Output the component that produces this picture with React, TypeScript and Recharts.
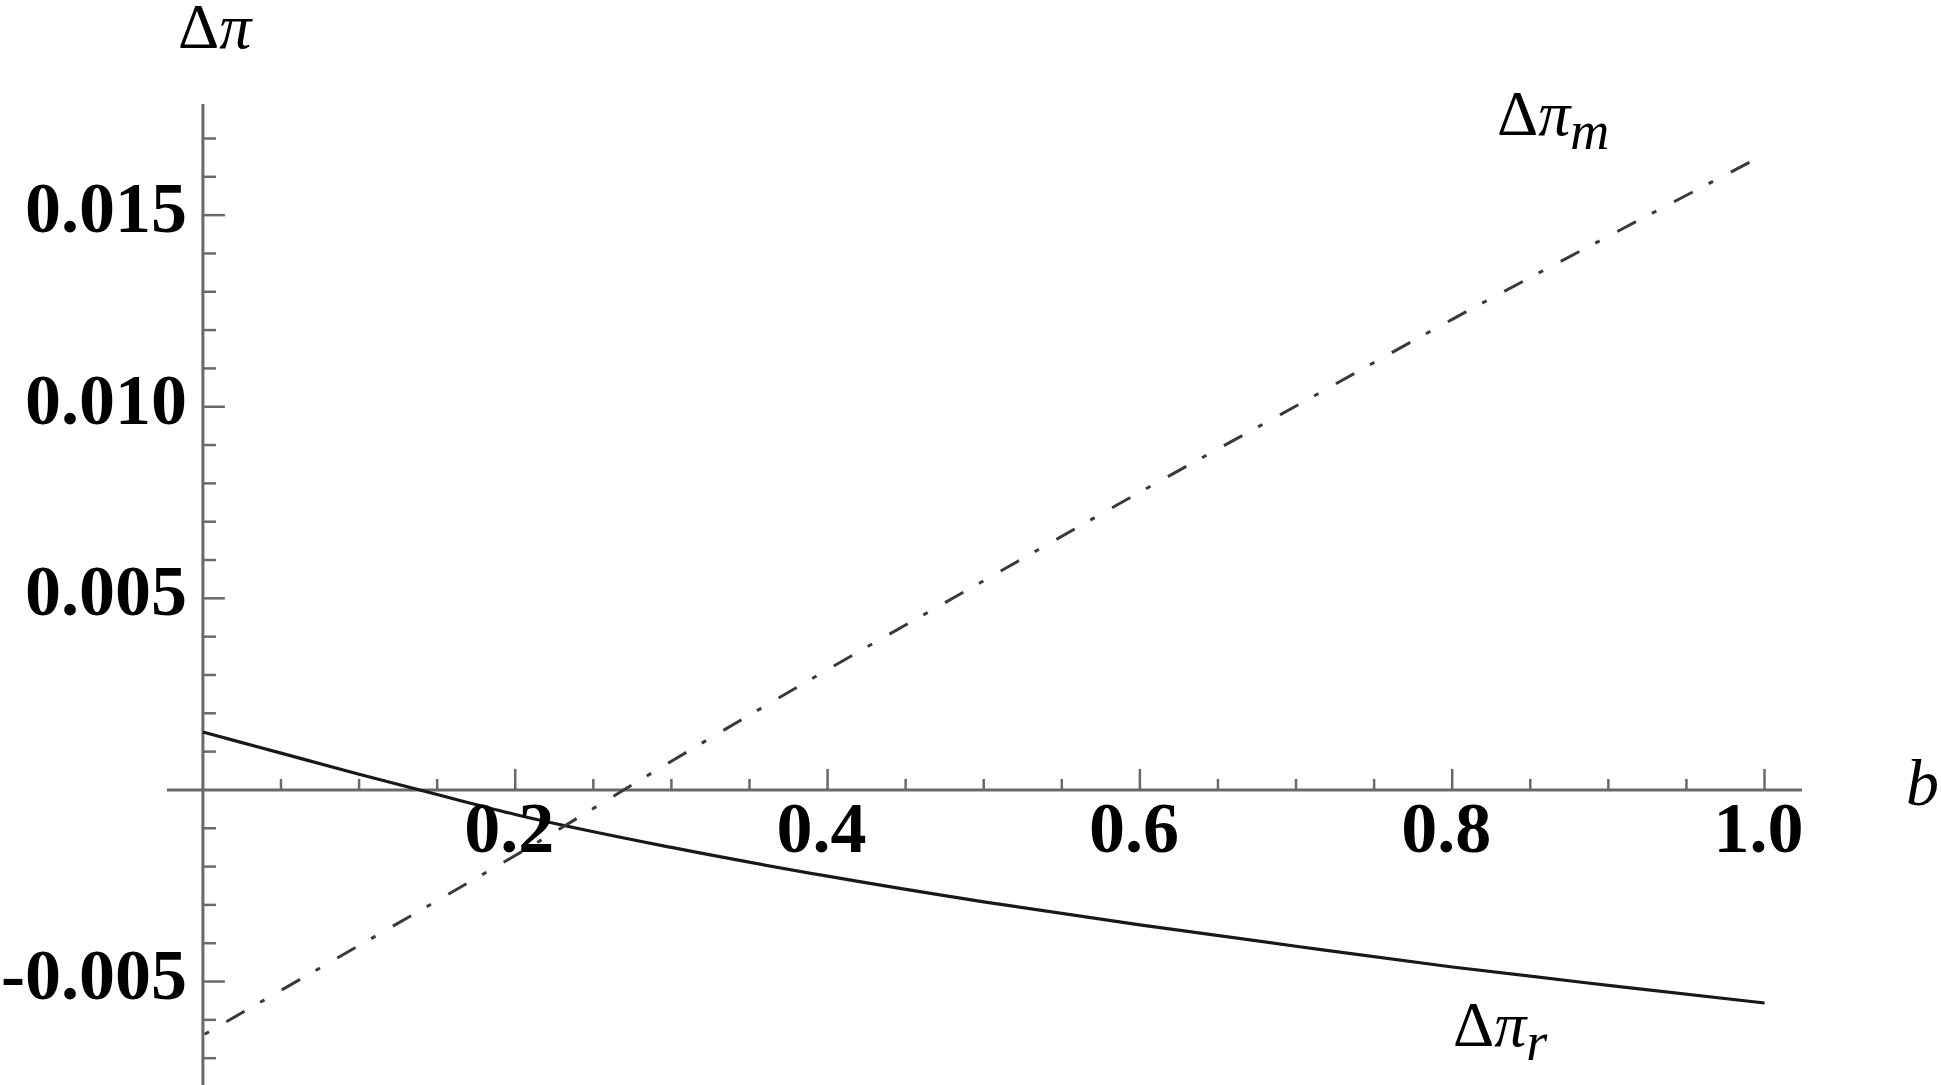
import { LineChart, Line, XAxis, YAxis, ReferenceLine, ReferenceDot } from 'recharts'

// b values along the horizontal axis
const bValues = [0, 0.05, 0.1, 0.15, 0.2, 0.3, 0.4, 0.5, 0.6, 0.7, 0.8, 0.9, 1.0]
// Δπ_r (solid curve)
const deltaPiR = [0.00151, 0.00096, 0.00041, -0.00012, -0.00064, -0.0015, -0.00225, -0.00292, -0.00352, -0.00408, -0.00462, -0.0051, -0.00556]
// Δπ_m (dot-dashed curve)
const deltaPiM = [-0.0064, -0.00523, -0.00406, -0.00289, -0.00171, 0.00075, 0.00314, 0.00546, 0.00777, 0.01002, 0.01228, 0.01445, 0.01658]

// tick positions and labels
const xMajorTicks = [0.2, 0.4, 0.6, 0.8, 1.0]
const xMajorLabels = ['0.2', '0.4', '0.6', '0.8', '1.0']
const xMinorTicks = [0.05, 0.1, 0.15, 0.25, 0.3, 0.35, 0.45, 0.5, 0.55, 0.65, 0.7, 0.75, 0.85, 0.9, 0.95]
const yMajorTicks = [-0.005, 0.005, 0.01, 0.015]
const yMajorLabels = ['-0.005', '0.005', '0.010', '0.015']
const yMinorTicks = [
  -0.007, -0.006, -0.004, -0.003, -0.002, -0.001, 0.001, 0.002, 0.003, 0.004,
  0.006, 0.007, 0.008, 0.009, 0.011, 0.012, 0.013, 0.014, 0.016, 0.017
]

const X_DOMAIN = [-0.023, 1.024]
const Y_DOMAIN = [-0.0077, 0.0179]

const AXIS_COLOR = '#696969'
const SERIF = '"Liberation Serif", "Times New Roman", serif'

const chartData = bValues.map((b, i) => ({ b, r: deltaPiR[i], m: deltaPiM[i] }))

// tick mark on the horizontal axis (points up into the plot)
const XTick = ({ cx, cy, len, label }: any) => (
  <g>
    <line x1={cx} y1={cy} x2={cx} y2={cy - len} stroke={AXIS_COLOR} strokeWidth={2.5} />
    {label && (
      <text x={cx - 6} y={cy + 62} textAnchor="middle" fontFamily={SERIF} fontWeight="bold" fontSize={72} fill="#000">
        {label}
      </text>
    )}
  </g>
)

// tick mark on the vertical axis (points right into the plot)
const YTick = ({ cx, cy, len, label }: any) => (
  <g>
    <line x1={cx} y1={cy} x2={cx + len} y2={cy} stroke={AXIS_COLOR} strokeWidth={2.5} />
    {label && (
      <text x={cx - 16} y={cy + 17} textAnchor="end" fontFamily={SERIF} fontWeight="bold" fontSize={72} fill="#000">
        {label}
      </text>
    )}
  </g>
)

export default function App() {
  return (
    <div style={{ position: 'absolute', top: 0, left: 0, width: 1941, height: 1085, background: '#fff' }}>
      <LineChart
        width={1941}
        height={1085}
        data={chartData}
        margin={{ top: 104, right: 139, bottom: 0, left: 167 }}
      >
        <XAxis type="number" dataKey="b" domain={X_DOMAIN} allowDataOverflow hide />
        <YAxis type="number" domain={Y_DOMAIN} allowDataOverflow hide />
        <ReferenceLine y={0} stroke={AXIS_COLOR} strokeWidth={3} />
        <ReferenceLine x={0} stroke={AXIS_COLOR} strokeWidth={3} />
        {xMinorTicks.map((t) => (
          <ReferenceDot key={`xm-${t}`} x={t} y={0} shape={(p: any) => <XTick cx={p.cx} cy={p.cy} len={11} />} />
        ))}
        {xMajorTicks.map((t, i) => (
          <ReferenceDot
            key={`xM-${t}`}
            x={t}
            y={0}
            shape={(p: any) => <XTick cx={p.cx} cy={p.cy} len={21} label={xMajorLabels[i]} />}
          />
        ))}
        {yMinorTicks.map((t) => (
          <ReferenceDot key={`ym-${t}`} x={0} y={t} shape={(p: any) => <YTick cx={p.cx} cy={p.cy} len={13} />} />
        ))}
        {yMajorTicks.map((t, i) => (
          <ReferenceDot
            key={`yM-${t}`}
            x={0}
            y={t}
            shape={(p: any) => <YTick cx={p.cx} cy={p.cy} len={22} label={yMajorLabels[i]} />}
          />
        ))}
        <Line
          type="monotone"
          dataKey="r"
          stroke="#181818"
          strokeWidth={3.2}
          dot={false}
          isAnimationActive={false}
        />
        <Line
          type="monotone"
          dataKey="m"
          stroke="#3a3a3a"
          strokeWidth={3}
          strokeDasharray="21 18 5 20"
          strokeDashoffset={37}
          dot={false}
          isAnimationActive={false}
        />
      </LineChart>
      <svg
        width={1941}
        height={1085}
        style={{ position: 'absolute', top: 0, left: 0, pointerEvents: 'none' }}
      >
        <text x={178} y={48} fontFamily={SERIF} fontSize={64} fill="#000">
          Δ<tspan fontStyle="italic">π</tspan>
        </text>
        <text x={1497} y={135} fontFamily={SERIF} fontSize={64} fill="#000">
          Δ<tspan fontStyle="italic">π</tspan>
          <tspan fontStyle="italic" fontSize={54} dy={14}>m</tspan>
        </text>
        <text x={1453} y={1046} fontFamily={SERIF} fontSize={64} fill="#000">
          Δ<tspan fontStyle="italic">π</tspan>
          <tspan fontStyle="italic" fontSize={54} dy={14}>r</tspan>
        </text>
        <text x={1906} y={805} fontFamily={SERIF} fontStyle="italic" fontSize={66} fill="#000">
          b
        </text>
      </svg>
    </div>
  )
}
